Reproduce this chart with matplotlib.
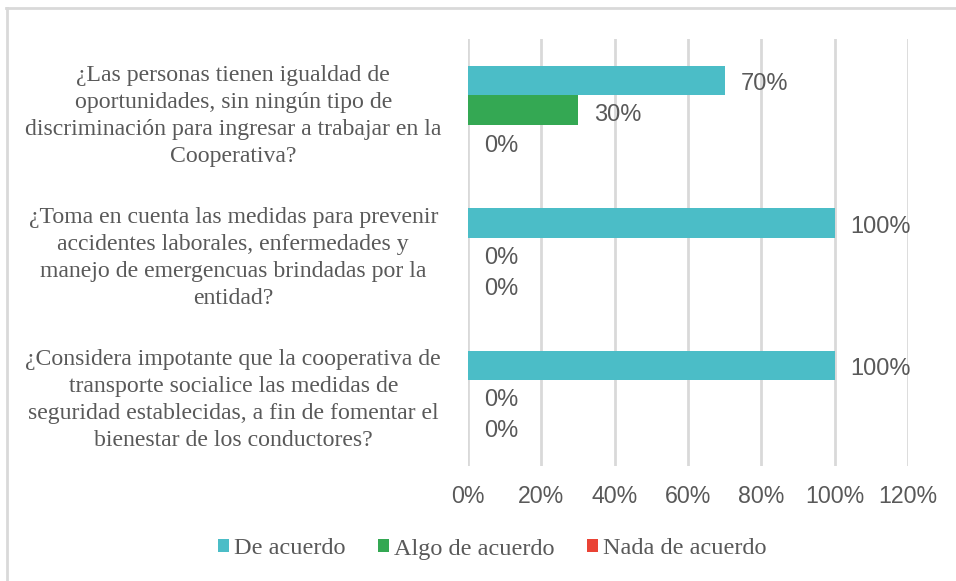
import matplotlib
matplotlib.use('Agg')
import matplotlib.pyplot as plt
from matplotlib.lines import Line2D
from matplotlib.patches import Patch
import numpy as np

# Survey questions (top to bottom)
questions = ['¿Las personas tienen igualdad de\noportunidades, sin ningún tipo de\ndiscriminación para ingresar a trabajar en la\nCooperativa?',
             '¿Toma en cuenta las medidas para prevenir\naccidentes laborales, enfermedades y\nmanejo de emergencuas brindadas por la\nentidad?',
             '¿Considera impotante que la cooperativa de\ntransporte socialice las medidas de\nseguridad establecidas, a fin de fomentar el\nbienestar de los conductores?']
series_names = ['De acuerdo', 'Algo de acuerdo', 'Nada de acuerdo']
de_acuerdo = [70, 100, 100]
algo_de_acuerdo = [30, 0, 0]
nada_de_acuerdo = [0, 0, 0]
x_ticks = [0, 20, 40, 60, 80, 100, 120]

colors = ['#4BBDC7', '#34A853', '#EA4335']
text_gray = '#595959'
serif = 'Liberation Serif'
sans = 'Liberation Sans'

fig = plt.figure(figsize=(9.56, 5.81), dpi=100)
ax = fig.add_axes([468 / 956, 1 - 466 / 581, 440 / 956, 427 / 581])

y = np.arange(len(questions))
h = 0.207
series = [de_acuerdo, algo_de_acuerdo, nada_de_acuerdo]
for i, (vals, name, c) in enumerate(zip(series, series_names, colors)):
    pos = y + (i - 1) * h
    ax.barh(pos, vals, height=h, color=c, label=name, zorder=3)
    for p, v in zip(pos, vals):
        ax.annotate(f'{v}%', xy=(v, p), xytext=(11.5, -2.5 - 1.2 * i), textcoords='offset points',
                    va='center', ha='left', fontsize=17, family=sans, color=text_gray, zorder=4)

ax.set_xlim(0, 120)
ax.set_ylim(len(questions) - 0.5, -0.5)
ax.set_xticks(x_ticks)
ax.set_xticklabels([f'{t}%' for t in x_ticks], family=sans, fontsize=16.7, color=text_gray)
ax.set_yticks(y)
ax.set_yticklabels(questions, family=serif, fontsize=17.1, color=text_gray,
                   ha='center', linespacing=1.38)
ax.tick_params(axis='y', length=0, pad=169)
ax.tick_params(axis='x', length=0, pad=14)
ax.grid(axis='x', color='#D9D9D9', linewidth=2, zorder=0)
for s in ax.spines.values():
    s.set_visible(False)

handles = [Patch(facecolor=c, edgecolor='none') for c in colors]
fig.legend(handles, series_names, loc='center', bbox_to_anchor=(492 / 956, 1 - 549 / 581),
           ncol=3, frameon=False, prop={'family': serif, 'size': 17.5},
           handlelength=0.45, handleheight=0.45, handletextpad=0.2, columnspacing=1.35,
           labelcolor=text_gray)

# outer frame (top and left edges only visible)
fig.add_artist(Line2D([6 / 956, 1], [1 - 8 / 581, 1 - 8 / 581], color='#D9D9D9', lw=2,
                      transform=fig.transFigure))
fig.add_artist(Line2D([7 / 956, 7 / 956], [0, 1 - 8 / 581], color='#D9D9D9', lw=2,
                      transform=fig.transFigure))

fig.savefig('out.png', dpi=100, facecolor='white')
